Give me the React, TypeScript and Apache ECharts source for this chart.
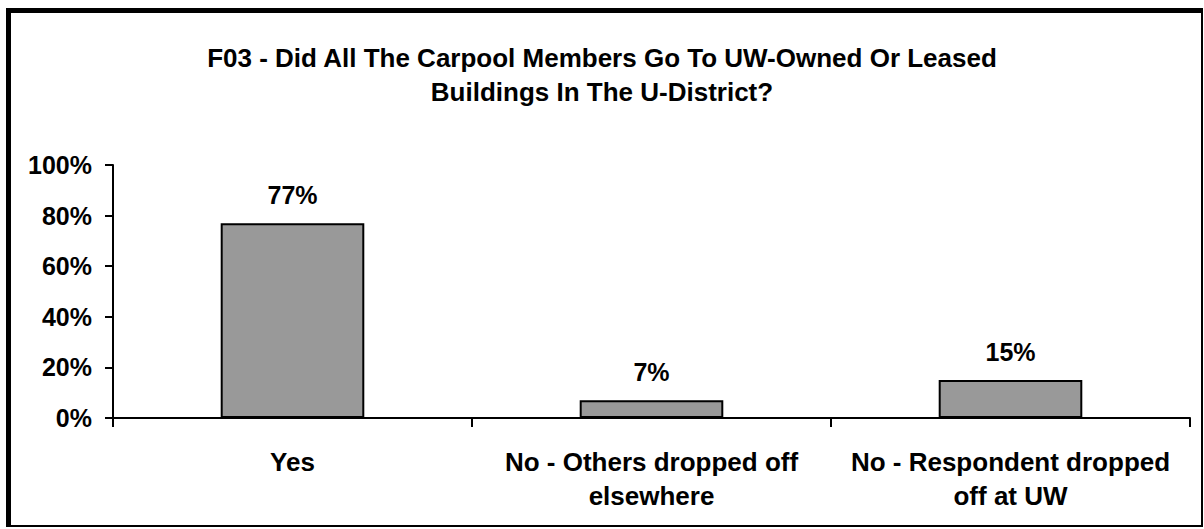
import React, { useEffect, useRef } from "react";
import * as echarts from "echarts";

const titleText = "F03 - Did All The Carpool Members Go To UW-Owned Or Leased\nBuildings In The U-District?";
const categories = ["Yes", "No - Others dropped off\nelsewhere", "No - Respondent dropped\noff at UW"];
const values = [77, 7, 15];
const yTicks = { min: 0, max: 100, interval: 20 };

const FONT = '"Liberation Sans", Arial, sans-serif';

export default function App() {
  const ref = useRef<HTMLDivElement>(null);
  useEffect(() => {
    if (!ref.current) return;
    const chart = echarts.init(ref.current, undefined, { renderer: "svg" });
    chart.setOption({
      animation: false,
      backgroundColor: "#ffffff",
      title: {
        text: titleText,
        left: "center",
        top: 41,
        padding: 0,
        textStyle: {
          fontFamily: FONT,
          fontWeight: "bold",
          fontSize: 26,
          lineHeight: 34,
          color: "#000",
        },
      },
      grid: { left: 113, right: 14, top: 165, bottom: 111, containLabel: false },
      xAxis: {
        type: "category",
        data: categories,
        boundaryGap: true,
        axisLine: { show: true, lineStyle: { color: "#000", width: 2 } },
        axisTick: { show: true, length: 9, lineStyle: { color: "#000", width: 2 } },
        axisLabel: {
          interval: 0,
          margin: 27,
          fontFamily: FONT,
          fontWeight: "bold",
          fontSize: 26,
          lineHeight: 34,
          color: "#000",
        },
      },
      yAxis: {
        type: "value",
        min: yTicks.min,
        max: yTicks.max,
        interval: yTicks.interval,
        axisLine: { show: true, lineStyle: { color: "#000", width: 2 } },
        axisTick: { show: true, length: 8, lineStyle: { color: "#000", width: 2 } },
        splitLine: { show: false },
        axisLabel: {
          formatter: "{value}%",
          margin: 21,
          fontFamily: FONT,
          fontWeight: "bold",
          fontSize: 25,
          color: "#000",
        },
      },
      series: [
        {
          type: "bar",
          data: values,
          barWidth: "40%",
          itemStyle: { color: "#999999", borderColor: "#000", borderWidth: 2 },
          label: {
            show: true,
            position: "top",
            distance: 16,
            formatter: "{c}%",
            fontFamily: FONT,
            fontWeight: "bold",
            fontSize: 25,
            color: "#000",
          },
        },
      ],
    });
    return () => chart.dispose();
  }, []);
  return (
    <div style={{ position: "absolute", left: 0, top: 0, width: 1204, height: 529 }}>
      <div ref={ref} style={{ position: "absolute", left: 0, top: 0, width: 1204, height: 529 }} />
      <div
        style={{
          position: "absolute",
          left: 6,
          top: 8,
          width: 1197,
          height: 519,
          boxSizing: "border-box",
          borderStyle: "solid",
          borderColor: "#000",
          borderWidth: "5px 2px 2px 5px",
          pointerEvents: "none",
        }}
      />
    </div>
  );
}
